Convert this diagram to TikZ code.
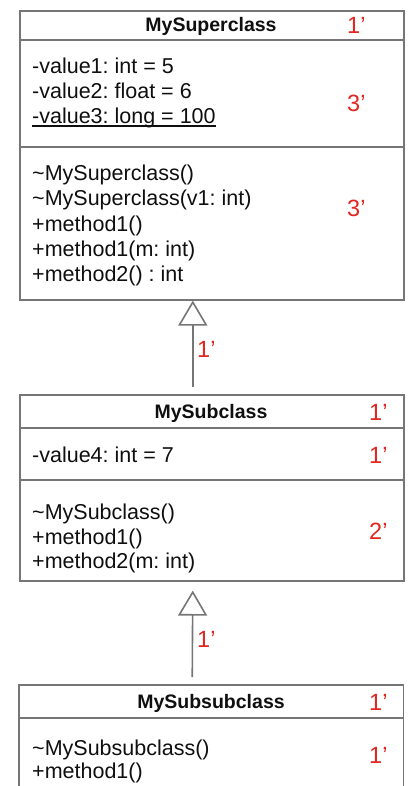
\documentclass[tikz,border=0pt]{standalone}
\usepackage{fontspec}
\setmainfont{Liberation Sans}
\usetikzlibrary{arrows.meta}
\frenchspacing
\definecolor{umlline}{RGB}{118,118,118}
\definecolor{umlred}{RGB}{226,38,32}
\definecolor{umltext}{RGB}{15,15,15}
\tikzset{
  classbox/.style={draw=umlline, line width=1.6pt, inner sep=0pt, anchor=north west, minimum width=384pt},
  sepline/.style={draw=umlline, line width=1.6pt},
  classname/.style={font=\fontsize{19.5}{23}\selectfont\bfseries, text=umltext, anchor=base, inner sep=0pt},
  member/.style={font=\fontsize{21.5}{25}\selectfont, text=umltext, anchor=base west, inner sep=0pt},
  estimate/.style={font=\fontsize{23.5}{28}\selectfont, text=umlred, anchor=base west, inner sep=0pt},
  inherit/.style={draw=umlline, line width=1.6pt, -{Triangle[open, length=25pt, width=29pt, fill=white]}},
}
\begin{document}
\begin{tikzpicture}[x=1pt, y=-1pt]
  \useasboundingbox (0,0) rectangle (407,786);
  \clip (0,0) rectangle (407,786);

  % ---- MySuperclass ----
  \node[classbox, minimum height=289pt] (sup) at (19,10) {};
  \draw[sepline] (19,40) -- (403,40);
  \draw[sepline] (19,147) -- (403,147);
  \node[classname] (supname) at (211,32) {MySuperclass};
  \node[member] (v1) at (32,74) {-value1: int = 5};
  \node[member] (v2) at (32,99) {-value2: float = 6};
  \node[member] (v3) at (32,124) {-value3: long = 100};
  \draw[umltext, line width=1.2pt] ([yshift=-2pt]v3.base west) -- ([yshift=-2pt]v3.base east);
  \node[member] (m1) at (32,181) {\char`\~MySuperclass()};
  \node[member] (m2) at (32,206) {\char`\~MySuperclass(v1: int)};
  \node[member] (m3) at (32,231) {+method1()};
  \node[member] (m4) at (32,256) {+method1(m: int)};
  \node[member] (m5) at (32,281) {+method2() : int};
  \node[estimate] (e1) at (347,34) {1’};
  \node[estimate] (e2) at (347,112) {3’};
  \node[estimate] (e3) at (347,217) {3’};

  % ---- MySubclass ----
  \node[classbox, minimum height=186pt] (sub) at (19,394) {};
  \draw[sepline] (19,428) -- (403,428);
  \draw[sepline] (19,480) -- (403,480);
  \node[classname] (subname) at (211,418) {MySubclass};
  \node[member] (v4) at (32,462) {-value4: int = 7};
  \node[member] (s1) at (32,519) {\char`\~MySubclass()};
  \node[member] (s2) at (32,544) {+method1()};
  \node[member] (s3) at (32,568) {+method2(m: int)};
  \node[estimate] (e4) at (369,420) {1’};
  \node[estimate] (e5) at (369,463) {1’};
  \node[estimate] (e6) at (369,539) {2’};

  % ---- MySubsubclass (continues below the page) ----
  \node[anchor=north west, minimum width=384pt, minimum height=110pt, inner sep=0pt] (subsub) at (19,685) {};
  \draw[sepline] (subsub.south west) -- (subsub.north west) -- (subsub.north east) -- (subsub.south east);
  \draw[sepline] (19,718) -- (403,718);
  \node[classname] (subsubname) at (211,708) {MySubsubclass};
  \node[member] (t1) at (32,755) {\char`\~MySubsubclass()};
  \node[member] (t2) at (32,778) {+method1()};
  \node[estimate] (e7) at (369,710) {1’};
  \node[estimate] (e8) at (369,763) {1’};

  % ---- generalisation arrows ----
  \draw[inherit, shorten <=7pt] ([xshift=-19pt]sub.north) -- ([xshift=-19pt]sup.south);
  \draw[inherit, shorten <=8pt, shorten >=9pt] ([xshift=-19pt]subsub.north) -- ([xshift=-19pt]sub.south);
  \node[estimate] (a1) at (197,357) {1’};
  \node[estimate] (a2) at (197,647) {1’};
\end{tikzpicture}
\end{document}
